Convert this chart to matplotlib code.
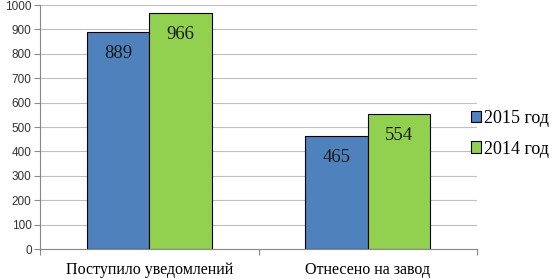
import matplotlib
matplotlib.use("Agg")
import matplotlib.pyplot as plt
import numpy as np

categories = ["Поступило уведомлений", "Отнесено на завод"]
series_names = ["2015 год", "2014 год"]
values_2015 = [889, 465]
values_2014 = [966, 554]
yticks = [0, 100, 200, 300, 400, 500, 600, 700, 800, 900, 1000]

fig = plt.figure(figsize=(5.53, 2.79), dpi=100)
ax = fig.add_axes([40/553, 1-249/279, (477-40)/553, (249-5)/279])

x = np.arange(len(categories))
w = 0.285
b1 = ax.bar(x - w/2, values_2015, w, color="#4F81BD", edgecolor="black", linewidth=0.8, zorder=3, label=series_names[0])
b2 = ax.bar(x + w/2, values_2014, w, color="#92D050", edgecolor="black", linewidth=0.8, zorder=3, label=series_names[1])

for bars, vals in ((b1, values_2015), (b2, values_2014)):
    for rect, v in zip(bars, vals):
        ax.annotate(str(v), (rect.get_x() + rect.get_width()/2, v), xytext=(0, -15.5),
                    textcoords="offset points", ha="center", va="center",
                    fontsize=13.5, family="Liberation Serif", color="#1a1a1a", zorder=4)

ax.set_xlim(-0.5, 1.5)
ax.set_ylim(0, 1000)
ax.set_yticks(yticks)
ax.set_yticklabels([str(t) for t in yticks], fontsize=8.5, family="Liberation Sans", color="#333333")
ax.yaxis.grid(True, color="#BFBFBF", linewidth=0.8, zorder=0)
ax.set_axisbelow(True)
ax.tick_params(axis="y", length=4, color="#888888", pad=2)

ax.set_xticks([-0.5, 0.5, 1.5], minor=False)
ax.set_xticklabels(["", "", ""])
ax.tick_params(axis="x", length=4, color="#888888")
ax.set_xticks(x, minor=True)
ax.set_xticklabels(categories, minor=True, fontsize=11.5, family="Liberation Serif")
ax.tick_params(axis="x", which="minor", length=0, pad=9.5)

for s in ("top", "right"):
    ax.spines[s].set_visible(False)
for s in ("left", "bottom"):
    ax.spines[s].set_color("#888888")
    ax.spines[s].set_linewidth(0.8)

leg = fig.legend(handles=[b1, b2], labels=series_names, loc="upper left",
                 bbox_to_anchor=(471/553, 1-110/279), frameon=False,
                 prop={"family": "Liberation Serif", "size": 13},
                 handlelength=0.55, handleheight=0.6, handletextpad=0.15,
                 labelspacing=0.75, borderaxespad=0, borderpad=0)

fig.savefig("out.png", dpi=100)
